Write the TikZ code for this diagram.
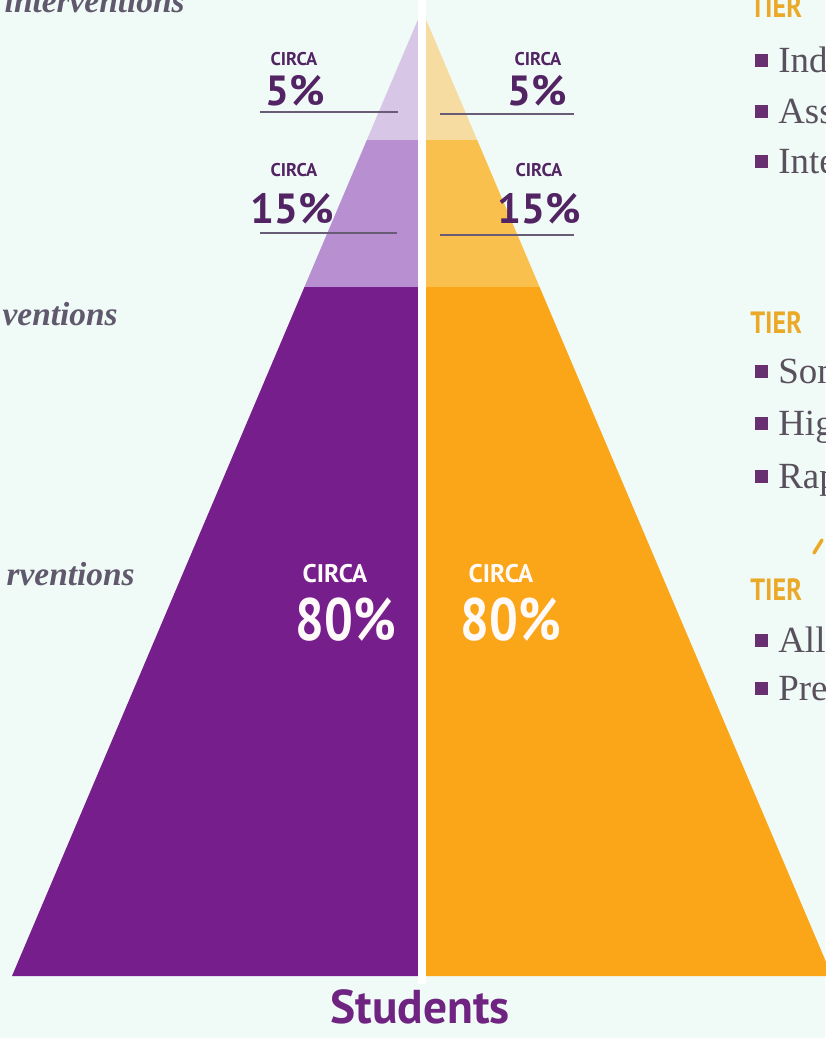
\documentclass[tikz,border=0pt]{standalone}
\usepackage{fontspec}
\setmainfont{Liberation Serif}
\newfontfamily\condsans[FakeStretch=0.85]{PT Sans}
\newfontfamily\labelsans{PT Sans}
\usetikzlibrary{positioning,calc}
\definecolor{bgmint}{RGB}{240,250,246}
\definecolor{pdark}{RGB}{117,30,140}
\definecolor{pmid}{RGB}{184,144,210}
\definecolor{plight}{RGB}{216,198,230}
\definecolor{odark}{RGB}{250,166,24}
\definecolor{omid}{RGB}{249,192,78}
\definecolor{olight}{RGB}{246,220,160}
\definecolor{labelpurple}{RGB}{82,36,100}
\definecolor{rulegray}{RGB}{105,92,118}
\definecolor{studpurple}{RGB}{110,36,128}
\definecolor{tierorange}{RGB}{234,170,40}
\definecolor{bulletpurple}{RGB}{104,48,112}
\definecolor{sidegray}{RGB}{96,88,108}
\definecolor{bodygray}{RGB}{88,80,92}

\begin{document}
\begin{tikzpicture}[x=0.02cm,y=-0.02cm,
  every node/.style={inner sep=0pt},
  smallcirca/.style={anchor=base,font=\labelsans\bfseries\fontsize{10.5}{12}\selectfont,text=labelpurple},
  pctlabel/.style={anchor=base,font=\labelsans\bfseries\fontsize{24}{26}\selectfont,text=labelpurple},
  bigcirca/.style={anchor=base,font=\labelsans\bfseries\fontsize{14.5}{16}\selectfont,text=white!92!pink},
  bignum/.style={anchor=base,font=\condsans\bfseries\fontsize{34}{36}\selectfont,text=white!92!pink},
  sidenote/.style={anchor=base east,font=\bfseries\itshape\fontsize{19}{22}\selectfont,text=sidegray},
  tierhead/.style={anchor=base west,font=\condsans\bfseries\fontsize{17.5}{20}\selectfont,text=tierorange},
  bullettext/.style={anchor=base west,font=\fontsize{21}{24}\selectfont,text=bodygray},
  labelrule/.style={rulegray,line width=0.04cm}]
\useasboundingbox (0,0) rectangle (825,1038);
\fill[bgmint] (0,0) rectangle (825,1038);

% pyramid
\coordinate (apex) at (422,10);
\coordinate (bl) at (12,976);
\coordinate (br) at (832,976);
\begin{scope}
\clip (apex) -- (bl) -- (br) -- cycle;
\fill[plight] (0,0) rectangle (422,140);
\fill[pmid] (0,140) rectangle (422,287);
\fill[pdark] (0,287) rectangle (422,980);
\fill[olight] (422,0) rectangle (840,140);
\fill[omid] (422,140) rectangle (840,287);
\fill[odark] (422,287) rectangle (840,980);
\end{scope}
\draw[white,line width=0.15cm] (422,0) -- (422,984);

% percentages, left
\node[smallcirca] (lc5) at (294,65) {CIRCA};
\node[pctlabel] (l5) at (295,105) {5\%};
\draw[labelrule] (260,112) -- (398,112);
\node[smallcirca] (lc15) at (294,176) {CIRCA};
\node[pctlabel] (l15) at (292,223) {15\%};
\draw[labelrule] (260,233) -- (397,233);

% percentages, right
\node[smallcirca] (rc5) at (538,65) {CIRCA};
\node[pctlabel] (r5) at (537,105) {5\%};
\draw[labelrule] (440,114) -- (574,114);
\node[smallcirca] (rc15) at (539,176) {CIRCA};
\node[pctlabel] (r15) at (539,223) {15\%};
\draw[labelrule] (440,235) -- (574,235);

% base tier
\node[bigcirca] (lc80) at (335,582) {CIRCA};
\node[bignum] (l80) at (346,640) {80\%};
\node[bigcirca] (rc80) at (501,582) {CIRCA};
\node[bignum] (r80) at (511,640) {80\%};

\node[anchor=base,font=\labelsans\bfseries\fontsize{27}{30}\selectfont,text=studpurple] (students) at (420,1023) {Students};

% left side
\node[sidenote] (side1) at (185,12) {interventions};
\node[sidenote] (side2) at (118,325) {ventions};
\node[sidenote] (side3) at (135,585) {rventions};

% right side
\node[tierhead] (tier1) at (750,17) {TIER};
\node[tierhead] (tier2) at (750,333) {TIER};
\node[tierhead] (tier3) at (750,600) {TIER};
\draw[tierorange,line width=0.07cm,line cap=round] (814,553) -- (822,540);
\foreach \y/\t in {72/Ind,123/Ass,173/Inte,383/Som,435/Hig,488/Rap,652/All,700/Pre}{
 \fill[bulletpurple] (755,\y-18) rectangle (768,\y-5);
 \node[bullettext] (item\y) at (778,\y) {\t};
}
\end{tikzpicture}
\end{document}
